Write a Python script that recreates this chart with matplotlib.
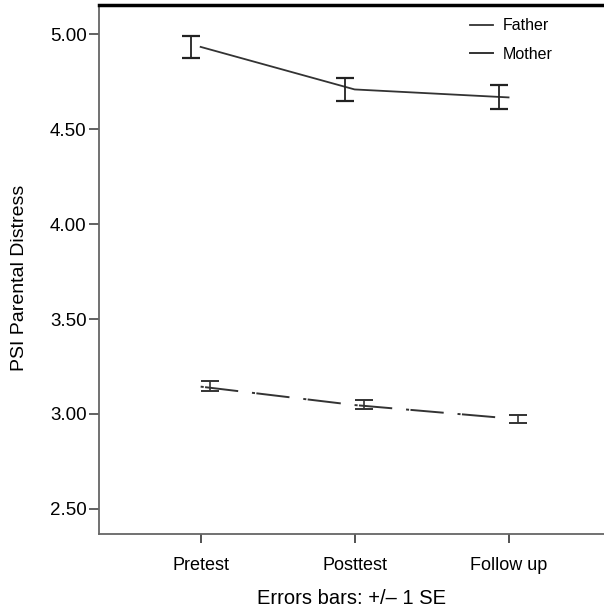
import numpy as np
import matplotlib.pyplot as plt

plt.rcParams['font.family'] = ['Liberation Sans', 'DejaVu Sans']
plt.rcParams['lines.scale_dashes'] = False

# data
phases = ['Pretest', 'Posttest', 'Follow up']
father_mean = [4.933, 4.709, 4.667]
father_lo = [4.875, 4.647, 4.604]
father_hi = [4.990, 4.767, 4.732]
mother_mean = [3.144, 3.047, 2.977]
mother_lo = [3.123, 3.025, 2.954]
mother_hi = [3.174, 3.074, 2.995]
yticks = [2.5, 3.0, 3.5, 4.0, 4.5, 5.0]

fig = plt.figure(figsize=(6.04, 6.10), dpi=100)
ax = fig.add_axes([0.164, 0.1246, 0.836, 0.867])

x = np.arange(len(phases))
dodge = 0.06

# lines
ax.plot(x, father_mean, color='#333333', lw=1.3, label='Father')
ax.plot(x, mother_mean, color='#333333', lw=1.4, dashes=(2.2, 1.0, 24, 10), label='Mother')

# error bars (+/- 1 SE)
f_mean = np.array(father_mean)
m_mean = np.array(mother_mean)
ax.errorbar(x - dodge, f_mean, yerr=[f_mean - np.array(father_lo), np.array(father_hi) - f_mean],
            fmt='none', ecolor='#222222', elinewidth=1.3, capsize=6.5, capthick=1.6)
ax.errorbar(x + dodge, m_mean, yerr=[m_mean - np.array(mother_lo), np.array(mother_hi) - m_mean],
            fmt='none', ecolor='#333333', elinewidth=1.2, capsize=6.5, capthick=1.4)

ax.set_xlim(-0.66, 2.62)
ax.set_ylim(2.368, 5.153)
ax.set_xticks(x)
ax.set_xticklabels(phases, fontsize=13)
ax.set_yticks(yticks)
ax.set_yticklabels(['%.2f' % v for v in yticks], fontsize=13.5)
ax.tick_params(axis='y', direction='out', length=7, width=1.3, color='#555555', pad=2)
ax.tick_params(axis='x', direction='out', length=6.5, width=1.3, color='#444444', pad=10)

ax.set_ylabel('PSI Parental Distress', fontsize=14)
ax.yaxis.set_label_coords(-0.14, 0.485)
ax.set_xlabel('Errors bars: +/\u2013 1 SE', fontsize=14.5, labelpad=11)

ax.spines['right'].set_visible(False)
ax.spines['top'].set_linewidth(2.5)
ax.spines['top'].set_color('black')
ax.spines['left'].set_color('#666666')
ax.spines['left'].set_linewidth(1.3)
ax.spines['bottom'].set_color('#666666')
ax.spines['bottom'].set_linewidth(1.3)

leg = ax.legend(loc='upper left', bbox_to_anchor=(0.735, 0.975), frameon=False, fontsize=11.5,
                handlelength=1.45, handletextpad=0.6, labelspacing=0.85,
                borderpad=0, borderaxespad=0)
for h in leg.get_lines():
    h.set_linestyle('-')

plt.savefig('out.png', dpi=100)
